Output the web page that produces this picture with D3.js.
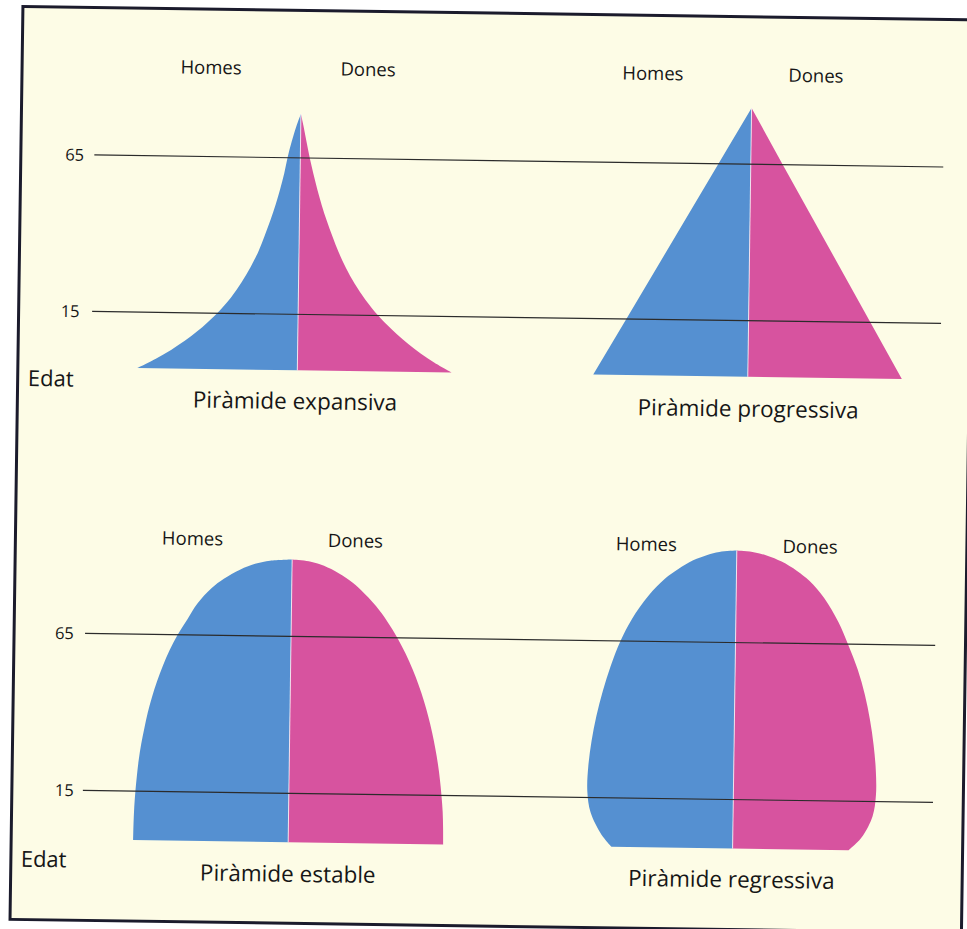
<!DOCTYPE html>
<html>
<head>
<meta charset="utf-8">
<script src="https://cdn.jsdelivr.net/npm/d3@7"></script>
<style>
  html, body { margin: 0; padding: 0; background: #ffffff; }
  svg { display: block; }
  text { font-family: "Open Sans", "Noto Sans", sans-serif; fill: #161616; }
</style>
</head>
<body>
<div id="chart"></div>
<script>
// ---------------- DATA ----------------
const sexLabels = ["Homes", "Dones"];
const axisLabel = "Edat";
const ageTicks = [15, 65];
const pyramidTitles = ["Piràmide expansiva", "Piràmide progressiva", "Piràmide estable", "Piràmide regressiva"];

// half-width of each side (% of population) by age
const expansivaAges  = [0, 2.5, 5, 7.5, 10, 12.5, 15, 20, 25, 30, 35, 40, 45, 50, 55, 60, 65, 70, 75, 79];
const expansivaMen   = [10.0, 8.88, 7.91, 7.06, 6.31, 5.66, 5.06, 4.22, 3.56, 3.0, 2.53, 2.16, 1.81, 1.5, 1.23, 0.99, 0.8, 0.56, 0.28, 0];
const expansivaWomen = [9.66, 8.59, 7.69, 6.91, 6.21, 5.58, 5.0, 4.19, 3.51, 2.95, 2.48, 2.08, 1.71, 1.38, 1.09, 0.83, 0.59, 0.38, 0.18, 0];

const progressivaAges  = [0, 15, 65, 83];
const progressivaMen   = [9.66, 7.64, 2.02, 0];
const progressivaWomen = [9.63, 7.62, 2.0, 0];

const estableAges  = [0, 5, 10, 15, 20, 25, 30, 35, 40, 45, 50, 55, 60, 65, 70, 75, 80, 83, 86, 88, 89, 89.5];
const estableMen   = [9.69, 9.68, 9.65, 9.59, 9.51, 9.41, 9.27, 9.09, 8.89, 8.64, 8.34, 7.99, 7.58, 7.09, 6.49, 5.88, 5.0, 4.25, 3.25, 2.25, 1.38, 0];
const estableWomen = [9.69, 9.67, 9.63, 9.54, 9.43, 9.29, 9.11, 8.9, 8.65, 8.36, 8.02, 7.63, 7.17, 6.64, 6.02, 5.28, 4.34, 3.62, 2.68, 1.78, 1.04, 0];

const regressivaAges  = [0, 2, 4.5, 10.5, 17, 25, 33, 41, 49, 57, 65, 72, 79.6, 85, 88.1, 91, 92.8, 93.8, 94.3];
const regressivaMen   = [7.56, 7.94, 8.31, 8.91, 9.13, 9.09, 8.91, 8.63, 8.25, 7.78, 7.19, 6.5, 5.47, 4.47, 3.66, 2.72, 1.84, 1.09, 0];
const regressivaWomen = [7.25, 7.69, 8.13, 8.72, 8.91, 8.88, 8.72, 8.47, 8.13, 7.66, 7.03, 6.41, 5.5, 4.56, 3.78, 2.81, 1.91, 1.13, 0];

// ---------------- LAYOUT ----------------
const W = 967, H = 929;
const colors = { men: "#5590d1", women: "#d7539f", bg: "#fdfce6", frame: "#1b1b2c", line: "#2b2b2b" };

const rows = [
  { age: d3.scaleLinear().domain([0, 15, 65, 85]).range([373, 317, 160.5, 97.9]), x0: 90, x1: 939,
    tickX: [58.6, 60.9], edatX: 26.8, edatY: 392.4 },
  { age: d3.scaleLinear().domain([0, 15, 65, 95]).range([845, 796, 639, 544.8]), x0: 87.5, x1: 937.7,
    tickX: [59.6, 57.4], edatX: 26.4, edatY: 873.2 }
];

const smooth = d3.curveCatmullRom.alpha(0.5);
const panels = [
  { row: 0, cx: 296,   ages: expansivaAges,   men: expansivaMen,   women: expansivaWomen,   curve: smooth,
    homes: [205.5, 77.8], dones: [362.5, 77.6], title: [294.2, 411.7] },
  { row: 0, cx: 746.5, ages: progressivaAges, men: progressivaMen, women: progressivaWomen, curve: d3.curveLinear,
    homes: [647.4, 77.6], dones: [810.4, 77.6], title: [747.3, 413] },
  { row: 1, cx: 293.5, ages: estableAges,     men: estableMen,     women: estableWomen,     curve: smooth,
    homes: [193.6, 549.1], dones: [356.5, 549.1], title: [293.6, 884.5] },
  { row: 1, cx: 738,   ages: regressivaAges,  men: regressivaMen,  women: regressivaWomen,  curve: smooth,
    homes: [647.4, 548.4], dones: [811.2, 548.7], title: [737.2, 883.8] }
];

const half = d3.scaleLinear().domain([0, 10]).range([0, 160]);

// ---------------- DRAW ----------------
const svg = d3.select("#chart").append("svg").attr("width", W).attr("height", H);
svg.append("rect").attr("width", W).attr("height", H).attr("fill", "#ffffff");

const g = svg.append("g").attr("transform", "rotate(0.81, 483, 465)");

g.append("rect").attr("x", 16.5).attr("y", 13).attr("width", 951.5).attr("height", 913)
  .attr("fill", colors.bg).attr("stroke", colors.frame).attr("stroke-width", 3);

panels.forEach((p, i) => {
  const yS = rows[p.row].age;
  const rowsData = p.ages.map((a, k) => ({ age: a, m: p.men[k], w: p.women[k] }));
  const men = d3.area().curve(p.curve)
    .y(d => yS(d.age)).x0(p.cx).x1(d => p.cx - half(d.m));
  const women = d3.area().curve(p.curve)
    .y(d => yS(d.age)).x0(p.cx).x1(d => p.cx + half(d.w));
  g.append("path").attr("d", men(rowsData)).attr("fill", colors.men);
  g.append("path").attr("d", women(rowsData)).attr("fill", colors.women);
  const top = d3.max(p.ages);
  g.append("line").attr("x1", p.cx).attr("x2", p.cx)
    .attr("y1", yS(0)).attr("y2", yS(top))
    .attr("stroke", "#ffffff").attr("stroke-opacity", 0.75).attr("stroke-width", 1);

  g.append("text").attr("x", p.homes[0]).attr("y", p.homes[1]).attr("text-anchor", "middle")
    .attr("font-size", 18.5).text(sexLabels[0]);
  g.append("text").attr("x", p.dones[0]).attr("y", p.dones[1]).attr("text-anchor", "middle")
    .attr("font-size", 18.5).text(sexLabels[1]);
  g.append("text").attr("x", p.title[0]).attr("y", p.title[1]).attr("text-anchor", "middle")
    .attr("font-size", 22.5).text(pyramidTitles[i]);
});

rows.forEach(r => {
  ageTicks.forEach((t, k) => {
    g.append("line").attr("x1", r.x0).attr("x2", r.x1)
      .attr("y1", r.age(t)).attr("y2", r.age(t))
      .attr("stroke", colors.line).attr("stroke-width", 1.2);
    g.append("text").attr("x", r.tickX[k]).attr("y", r.age(t)).attr("dy", "0.36em")
      .attr("font-size", 16.5).text(t);
  });
  g.append("text").attr("x", r.edatX).attr("y", r.edatY).attr("font-size", 22).text(axisLabel);
});
</script>
</body>
</html>
